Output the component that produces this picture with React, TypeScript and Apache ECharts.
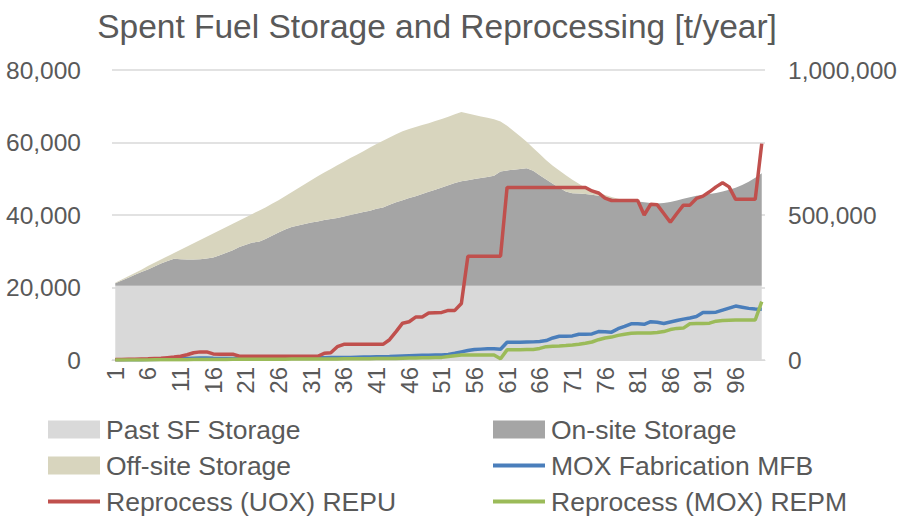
import React, { useEffect, useRef } from "react";
import * as echarts from "echarts";

const categories: string[] = Array.from({ length: 100 }, (_, i) => String(i + 1));

const pastSF: number[] = Array(100).fill(20500);

const onSite: number[] = [
  700, 1400, 2200, 3000, 3800, 4500, 5300, 6100, 6800, 7400,
  7300, 7200, 7200, 7300, 7500, 7800, 8400, 9100, 9800, 10700,
  11300, 11900, 12100, 12900, 13800, 14700, 15500, 16200, 16600, 17000,
  17400, 17700, 18100, 18400, 18700, 19100, 19500, 19900, 20300, 20700,
  21200, 21600, 22300, 23000, 23600, 24200, 24700, 25300, 25900, 26500,
  27100, 27700, 28300, 28800, 29100, 29400, 29700, 30000, 30300, 31500,
  31800, 32000, 32200, 32400, 31700, 30500, 29300, 28100, 27000, 26000,
  25500, 25400, 25300, 25100, 24800, 24400, 24100, 23800, 23500, 23300,
  23200, 23000, 22800, 22700, 22800, 23100, 23500, 24000, 24400, 24800,
  25000, 25300, 25600, 26000, 26500, 27000, 27800, 28700, 29800, 31000,
];

const offSite: number[] = [
  100, 300, 400, 500, 600, 900, 1000, 1100, 1300, 1600,
  2600, 3600, 4500, 5300, 6000, 6600, 6900, 7100, 7300, 7300,
  7600, 7900, 8600, 8700, 8800, 8900, 9200, 9600, 10300, 11000,
  11700, 12500, 13100, 13800, 14500, 15100, 15700, 16200, 16800, 17400,
  17900, 18400, 18600, 18800, 19000, 19000, 19100, 19000, 18900, 18900,
  18900, 18900, 19000, 19100, 18400, 17700, 17000, 16300, 15600, 13800,
  12300, 10700, 9000, 7300, 6300, 5800, 5300, 5000, 4800, 4500,
  3700, 2700, 1700, 1100, 800, 600, 400, 200, 0, 0,
  0, 0, 0, 0, 0, 0, 0, 0, 0, 0,
  0, 0, 0, 0, 0, 0, 0, 0, 0, 0,
];

const mfb: number[] = [
  500, 500, 800, 1000, 1200, 1500, 2000, 2500, 3000, 3500,
  4000, 5000, 6000, 7000, 7000, 6000, 5500, 5500, 5500, 5000,
  5500, 5500, 6000, 6000, 6000, 6500, 6500, 7000, 7000, 7000,
  7500, 8000, 8000, 8500, 8500, 9000, 9000, 9500, 10000, 10500,
  11000, 11500, 12000, 13000, 14000, 15000, 15500, 16000, 16500, 17000,
  17000, 19000, 23000, 28000, 33000, 36000, 37500, 38500, 38500, 37000,
  61000, 61500, 61500, 62000, 62500, 64000, 67000, 76000, 82000, 82000,
  83000, 89000, 89000, 90000, 98000, 97000, 96000, 108000, 116000, 125000,
  125000, 123000, 132000, 130000, 126000, 131000, 136000, 141000, 145000, 150000,
  164000, 164000, 165000, 172000, 179000, 186000, 182000, 178000, 176000, 175000,
];

const repu: number[] = [
  2000, 2000, 2500, 3000, 3500, 4000, 5000, 6000, 8000, 10000,
  13000, 18000, 25000, 28000, 28000, 21000, 20000, 20000, 20000, 13000,
  13000, 13000, 13000, 13000, 13000, 13000, 13000, 13000, 13000, 13000,
  13000, 13000, 23000, 25000, 46000, 54000, 54000, 54000, 54000, 54000,
  54000, 54000, 70000, 98000, 127000, 132000, 148000, 148000, 162000, 163000,
  164000, 171000, 171000, 195000, 358000, 358000, 358000, 358000, 358000, 358000,
  595000, 595000, 595000, 595000, 595000, 595000, 595000, 595000, 595000, 595000,
  595000, 595000, 595000, 583000, 576000, 558000, 550000, 550000, 550000, 550000,
  550000, 500000, 537000, 535000, 505000, 475000, 505000, 534000, 534000, 557000,
  565000, 580000, 597000, 611000, 597000, 554000, 554000, 554000, 554000, 746000,
];

const repm: number[] = [
  0, 0, 0, 200, 300, 400, 500, 600, 700, 800,
  1000, 1200, 1500, 1800, 2000, 2000, 2000, 2000, 2200, 2400,
  2500, 2600, 2700, 2800, 2900, 3000, 3000, 3100, 3200, 3300,
  3400, 3500, 3600, 3700, 3800, 4000, 4000, 4200, 4400, 4600,
  4800, 5000, 5200, 5500, 6000, 6500, 7000, 7500, 8000, 8500,
  9000, 12000, 15000, 17000, 17200, 17200, 17200, 17200, 17000, 4000,
  35000, 35500, 35500, 36000, 36500, 40000, 46000, 47500, 48500, 50000,
  52000, 54500, 57500, 62000, 70000, 76000, 79000, 85000, 89000, 92000,
  93000, 93000, 93000, 95000, 98000, 105000, 109000, 110000, 125000, 126000,
  126000, 127000, 134000, 136000, 137000, 138000, 138000, 138000, 138000, 201000,
];

const FONT = "'Liberation Sans', Arial, sans-serif";
const TXT = "#595959";

const C_PAST = "#D9D9D9";
const C_ON = "#A5A5A5";
const C_OFF = "#D8D5BE";
const C_BLUE = "#4A7EBB";
const C_RED = "#C0504D";
const C_GREEN = "#9BBB59";

export default function App() {
  const ref = useRef<HTMLDivElement>(null);

  useEffect(() => {
    if (!ref.current) return;
    const chart = echarts.init(ref.current, undefined, { renderer: "svg" });

    const areaSeries = (name: string, data: number[], color: string) => ({
      name,
      type: "line",
      stack: "storage",
      data,
      symbol: "none",
      showSymbol: false,
      lineStyle: { width: 0 },
      itemStyle: { color },
      areaStyle: { color, opacity: 1 },
      emphasis: { disabled: true },
    });
    const lineSeries = (name: string, data: number[], color: string) => ({
      name,
      type: "line",
      yAxisIndex: 1,
      data,
      symbol: "none",
      showSymbol: false,
      lineStyle: { width: 3.5, color },
      itemStyle: { color },
      emphasis: { disabled: true },
    });

    const legendItem = (name: string, left: number, top: number, rect: boolean) => ({
      data: [{ name, icon: "rect" }],
      left,
      top,
      padding: 0,
      itemWidth: 52,
      itemHeight: rect ? 18 : 4,
      itemGap: 0,
      selectedMode: false,
      textStyle: { fontFamily: FONT, fontSize: 26.5, color: TXT, padding: [0, 0, 0, 1] },
    });

    chart.setOption({
      animation: false,
      backgroundColor: "#ffffff",
      title: {
        text: "Spent Fuel Storage and Reprocessing [t/year]",
        left: 432,
        textAlign: "center",
        top: 4,
        textStyle: { fontFamily: FONT, fontSize: 33.5, fontWeight: "normal", color: TXT },
      },
      legend: [
        legendItem("Past SF Storage", 48, 416, true),
        legendItem("On-site Storage", 493, 416, true),
        legendItem("Off-site Storage", 48, 452, true),
        legendItem("MOX Fabrication MFB", 493, 452, false),
        legendItem("Reprocess (UOX) REPU", 48, 488, false),
        legendItem("Reprocess (MOX) REPM", 493, 488, false),
      ],
      grid: { left: 112, right: 133, top: 70, bottom: 159, containLabel: false },
      xAxis: {
        type: "category",
        data: categories,
        boundaryGap: true,
        axisLine: { show: true, lineStyle: { color: "#D9D9D9", width: 1 } },
        axisTick: { show: false },
        axisLabel: {
          interval: 4,
          rotate: 90,
          margin: 7,
          fontFamily: FONT,
          fontSize: 24,
          color: TXT,
        },
      },
      yAxis: [
        {
          type: "value",
          min: 0,
          max: 80000,
          interval: 20000,
          axisLine: { show: false },
          axisTick: { show: false },
          splitLine: { lineStyle: { color: "#D9D9D9", width: 1.5 } },
          axisLabel: {
            margin: 31,
            fontFamily: FONT,
            fontSize: 24.5,
            color: TXT,
            formatter: (v: number) => v.toLocaleString("en-US"),
          },
        },
        {
          type: "value",
          min: 0,
          max: 1000000,
          interval: 500000,
          axisLine: { show: false },
          axisTick: { show: false },
          splitLine: { show: false },
          axisLabel: {
            margin: 23,
            fontFamily: FONT,
            fontSize: 24.5,
            color: TXT,
            formatter: (v: number) => v.toLocaleString("en-US"),
          },
        },
      ],
      series: [
        areaSeries("Past SF Storage", pastSF, C_PAST),
        areaSeries("On-site Storage", onSite, C_ON),
        areaSeries("Off-site Storage", offSite, C_OFF),
        lineSeries("MOX Fabrication MFB", mfb, C_BLUE),
        lineSeries("Reprocess (UOX) REPU", repu, C_RED),
        lineSeries("Reprocess (MOX) REPM", repm, C_GREEN),
      ],
    });

    return () => {
      chart.dispose();
    };
  }, []);

  return (
    <div
      ref={ref}
      style={{ position: "fixed", left: 0, top: 0, width: 900, height: 519, background: "#fff" }}
    />
  );
}
